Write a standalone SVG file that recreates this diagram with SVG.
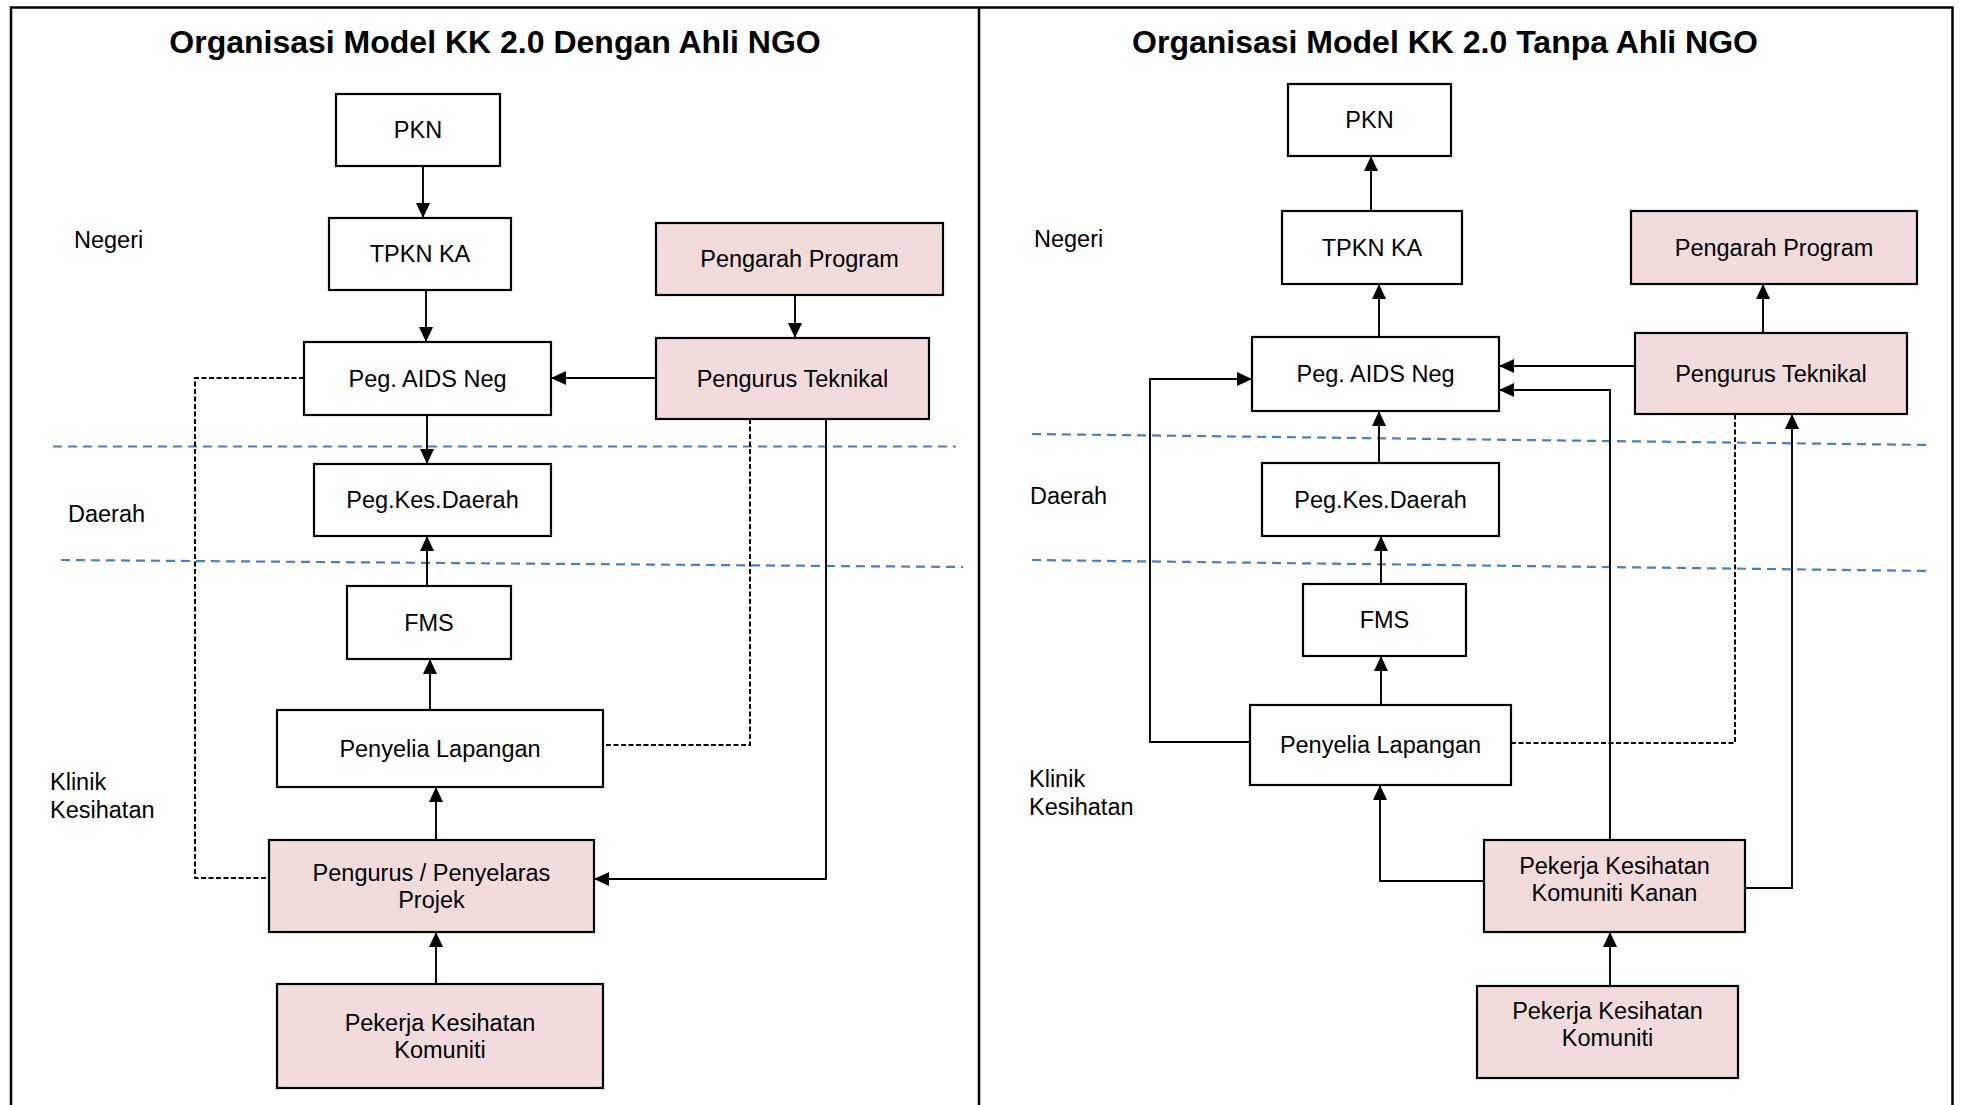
<svg xmlns="http://www.w3.org/2000/svg" width="1961" height="1105" viewBox="0 0 1961 1105">
<style>
text{font-family:"Liberation Sans",Arial,sans-serif;fill:#000}
.t{font-size:23.5px;text-anchor:middle}
.lbl{font-size:23.5px}
.title{font-size:32px;font-weight:bold;text-anchor:middle}
.box{fill:#fff;stroke:#000;stroke-width:2.2}
.pink{fill:#f2dcdb;stroke:#000;stroke-width:2.2}
.c{fill:none;stroke:#000;stroke-width:1.9}
.d{fill:none;stroke:#000;stroke-width:2;stroke-dasharray:5 2.5}
.blue{fill:none;stroke:#4a7ebf;stroke-width:2.2;stroke-dasharray:9 6}
.frame{fill:none;stroke:#000;stroke-width:2.5}
</style>
<defs>
<marker id="ah" markerUnits="userSpaceOnUse" markerWidth="16" markerHeight="14" refX="15" refY="7" orient="auto">
<path d="M0,0 L15,7 L0,14 z" fill="#000"/>
</marker>
</defs>
<rect width="1961" height="1105" fill="#fff"/>
<g id="frame">
<path class="frame" d="M11,1105 V7.5 H1952.5 V1105 M979,7.5 V1105"/>
</g>
<g id="titles">
<text class="title" x="495" y="53">Organisasi Model KK 2.0 Dengan Ahli NGO</text>
<text class="title" x="1445" y="53">Organisasi Model KK 2.0 Tanpa Ahli NGO</text>
</g>
<g id="levels">
<path class="blue" d="M53,446.5 L956,446.5"/>
<path class="blue" d="M61,560 L963,567"/>
<path class="blue" d="M1032,434 L1930,445"/>
<path class="blue" d="M1032,560 L1930,571"/>
<text class="lbl" x="74" y="248">Negeri</text>
<text class="lbl" x="68" y="522">Daerah</text>
<text class="lbl" x="50" y="790">Klinik</text>
<text class="lbl" x="50" y="818">Kesihatan</text>
<text class="lbl" x="1034" y="247">Negeri</text>
<text class="lbl" x="1030" y="504">Daerah</text>
<text class="lbl" x="1029" y="787">Klinik</text>
<text class="lbl" x="1029" y="815">Kesihatan</text>
</g>
<g id="connectors">
<path class="c" d="M423,166 V218" marker-end="url(#ah)"/>
<path class="c" d="M426,290 V342" marker-end="url(#ah)"/>
<path class="c" d="M795,295 V338" marker-end="url(#ah)"/>
<path class="c" d="M656,378 H551" marker-end="url(#ah)"/>
<path class="c" d="M427,415 V464" marker-end="url(#ah)"/>
<path class="c" d="M427,586 V536" marker-end="url(#ah)"/>
<path class="c" d="M430,710 V659" marker-end="url(#ah)"/>
<path class="c" d="M436,840 V787" marker-end="url(#ah)"/>
<path class="c" d="M436,984 V932" marker-end="url(#ah)"/>
<path class="c" d="M826,419 V879 H594" marker-end="url(#ah)"/>
<path class="d" d="M304,378 H195 V878 H269"/>
<path class="d" d="M750,419 V745 H603"/>
<path class="c" d="M1371,211 V156" marker-end="url(#ah)"/>
<path class="c" d="M1379,337 V284" marker-end="url(#ah)"/>
<path class="c" d="M1763,333 V284" marker-end="url(#ah)"/>
<path class="c" d="M1640,366 H1499" marker-end="url(#ah)"/>
<path class="c" d="M1610,840 V390 H1499" marker-end="url(#ah)"/>
<path class="c" d="M1250,742 H1150 V379 H1252" marker-end="url(#ah)"/>
<path class="c" d="M1379,463 V411" marker-end="url(#ah)"/>
<path class="c" d="M1381,584 V536" marker-end="url(#ah)"/>
<path class="c" d="M1381,705 V656" marker-end="url(#ah)"/>
<path class="d" d="M1511,743 H1735 V414"/>
<path class="c" d="M1484,881 H1380 V785" marker-end="url(#ah)"/>
<path class="c" d="M1745,888 H1792 V414" marker-end="url(#ah)"/>
<path class="c" d="M1610,986 V932" marker-end="url(#ah)"/>
</g>
<g id="L_PKN"><rect class="box" x="336" y="94" width="164" height="72"/><text class="t" x="418" y="138">PKN</text></g>
<g id="L_TPKN"><rect class="box" x="329" y="218" width="182" height="72"/><text class="t" x="420" y="262">TPKN KA</text></g>
<g id="L_PegAIDS"><rect class="box" x="304" y="342" width="247" height="73"/><text class="t" x="427.5" y="386.5">Peg. AIDS Neg</text></g>
<g id="L_Pengarah"><rect class="pink" x="656" y="223" width="287" height="72"/><text class="t" x="799.5" y="267">Pengarah Program</text></g>
<g id="L_PengurusTek"><rect class="pink" x="656" y="338" width="273" height="81"/><text class="t" x="792.5" y="386.5">Pengurus Teknikal</text></g>
<g id="L_PegKes"><rect class="box" x="314" y="464" width="237" height="72"/><text class="t" x="432.5" y="508">Peg.Kes.Daerah</text></g>
<g id="L_FMS"><rect class="box" x="347" y="586" width="164" height="73"/><text class="t" x="429" y="630.5">FMS</text></g>
<g id="L_Penyelia"><rect class="box" x="277" y="710" width="326" height="77"/><text class="t" x="440" y="756.5">Penyelia Lapangan</text></g>
<g id="L_PengurusProjek"><rect class="pink" x="269" y="840" width="325" height="92"/><text class="t" x="431.5" y="881">Pengurus / Penyelaras</text><text class="t" x="431.5" y="908">Projek</text></g>
<g id="L_Pekerja"><rect class="pink" x="277" y="984" width="326" height="104"/><text class="t" x="440" y="1031">Pekerja Kesihatan</text><text class="t" x="440" y="1058">Komuniti</text></g>
<g id="R_PKN"><rect class="box" x="1288" y="84" width="163" height="72"/><text class="t" x="1369.5" y="128">PKN</text></g>
<g id="R_TPKN"><rect class="box" x="1282" y="211" width="180" height="73"/><text class="t" x="1372" y="255.5">TPKN KA</text></g>
<g id="R_PegAIDS"><rect class="box" x="1252" y="337" width="247" height="74"/><text class="t" x="1375.5" y="382">Peg. AIDS Neg</text></g>
<g id="R_Pengarah"><rect class="pink" x="1631" y="211" width="286" height="73"/><text class="t" x="1774" y="255.5">Pengarah Program</text></g>
<g id="R_PengurusTek"><rect class="pink" x="1635" y="333" width="272" height="81"/><text class="t" x="1771" y="381.5">Pengurus Teknikal</text></g>
<g id="R_PegKes"><rect class="box" x="1262" y="463" width="237" height="73"/><text class="t" x="1380.5" y="507.5">Peg.Kes.Daerah</text></g>
<g id="R_FMS"><rect class="box" x="1303" y="584" width="163" height="72"/><text class="t" x="1384.5" y="628">FMS</text></g>
<g id="R_Penyelia"><rect class="box" x="1250" y="705" width="261" height="80"/><text class="t" x="1380.5" y="753">Penyelia Lapangan</text></g>
<g id="R_PekerjaKanan"><rect class="pink" x="1484" y="840" width="261" height="92"/><text class="t" x="1614.5" y="874">Pekerja Kesihatan</text><text class="t" x="1614.5" y="901">Komuniti Kanan</text></g>
<g id="R_Pekerja"><rect class="pink" x="1477" y="986" width="261" height="92"/><text class="t" x="1607.5" y="1019">Pekerja Kesihatan</text><text class="t" x="1607.5" y="1046">Komuniti</text></g>
</svg>
